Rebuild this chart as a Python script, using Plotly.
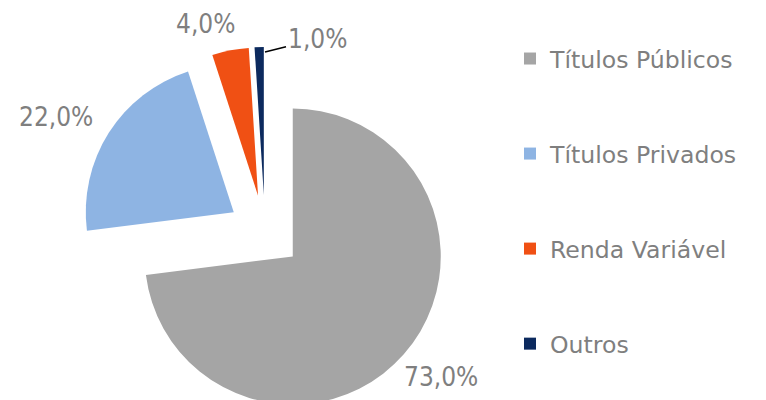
import plotly.graph_objects as go

# ---- data ----
categories = ["Títulos Públicos", "Títulos Privados", "Renda Variável", "Outros"]
values = [73.0, 22.0, 4.0, 1.0]

# ---- style ----
colors = ["#A5A5A5", "#8EB4E3", "#F05014", "#0C2A5E"]
pull = 0.25
W, H = 766, 420
label_px = [(441, 377), (56, 117), (205, 24), (317, 39)]  # pixel centres of value labels
text_color = "#7F7F7F"

total = sum(values)


def px_x(x):
    return x / W


def px_y(y):
    return 1 - y / H


cx, cy, half = 265, 232, 185

fig = go.Figure()
fig.add_trace(go.Pie(
    labels=[" <br>" + c + "<br> " for c in categories],
    values=values,
    sort=False,
    direction="clockwise",
    rotation=0,
    pull=[pull] * len(values),
    marker=dict(colors=colors, line=dict(width=0)),
    textinfo="none",
    hoverinfo="label+percent",
    domain=dict(x=[px_x(cx - half), px_x(cx + half)],
                y=[px_y(cy + half), px_y(cy - half)]),
))

annotations = []
for i, (v, (lx, ly)) in enumerate(zip(values, label_px)):
    txt = f"{v / total * 100:.1f}%".replace(".", ",")
    ann = dict(text=txt, xref="paper", yref="paper", x=px_x(lx), y=px_y(ly),
               xanchor="center", yanchor="middle", showarrow=False,
               font=dict(family="DejaVu Sans Condensed", size=26, color=text_color))
    if i == 3:
        ann.update(showarrow=True, x=px_x(265), y=px_y(52), ax=lx - 265, ay=ly - 52,
                   arrowhead=0, arrowwidth=1.5, arrowcolor="#000000", standoff=0)
    annotations.append(ann)

fig.update_layout(
    width=W, height=H,
    margin=dict(l=0, r=0, t=0, b=0),
    paper_bgcolor="white",
    plot_bgcolor="white",
    showlegend=True,
    legend=dict(x=px_x(510), y=px_y(6), xanchor="left", yanchor="top",
                font=dict(family="DejaVu Sans", size=23.6, color=text_color),
                bgcolor="rgba(0,0,0,0)", borderwidth=0),
    annotations=annotations,
)

fig.write_html("out.html", config={"displayModeBar": False}, post_script=(
    "document.documentElement.style.overflow='hidden';"
    "document.body.style.overflow='hidden';"
    "document.body.style.margin='0';"
))
